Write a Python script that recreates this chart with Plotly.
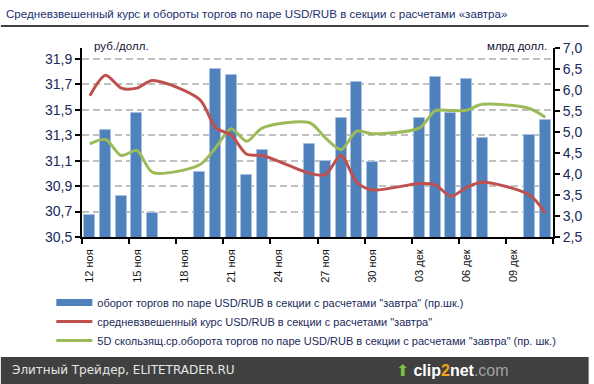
import plotly.graph_objects as go
import pandas as pd

# ---------------- data ----------------
dates = ["2012-11-12", "2012-11-13", "2012-11-14", "2012-11-15", "2012-11-16",
         "2012-11-19", "2012-11-20", "2012-11-21", "2012-11-22", "2012-11-23",
         "2012-11-26", "2012-11-27", "2012-11-28", "2012-11-29", "2012-11-30",
         "2012-12-03", "2012-12-04", "2012-12-05", "2012-12-06", "2012-12-07",
         "2012-12-10", "2012-12-11"]
turnover = [3.03, 5.04, 3.48, 5.46, 3.07,
            4.04, 6.50, 6.35, 3.97, 4.56,
            4.72, 4.32, 5.34, 6.18, 4.28,
            5.34, 6.31, 5.46, 6.27, 4.86,
            4.92, 5.28]
rate = [31.61, 31.77, 31.67, 31.67, 31.73,
        31.58, 31.36, 31.30, 31.15, 31.14,
        31.00, 30.99, 31.14, 30.93, 30.87,
        30.92, 30.91, 30.82, 30.89, 30.93,
        30.83, 30.69]
ma5 = [4.72, 4.82, 4.44, 4.56, 4.04,
       4.22, 4.62, 5.08, 4.78, 5.10,
       5.22, 4.86, 4.58, 5.02, 4.96,
       5.10, 5.51, 5.51, 5.52, 5.66,
       5.56, 5.35]
tick_dates = ["2012-11-12", "2012-11-15", "2012-11-18", "2012-11-21", "2012-11-24",
              "2012-11-27", "2012-11-30", "2012-12-03", "2012-12-06", "2012-12-09"]
tick_labels = ["12 ноя", "15 ноя", "18 ноя", "21 ноя", "24 ноя",
               "27 ноя", "30 ноя", "03 дек", "06 дек", "09 дек"]
left_ticks = [30.5, 30.7, 30.9, 31.1, 31.3, 31.5, 31.7, 31.9]
right_ticks = [2.5, 3.0, 3.5, 4.0, 4.5, 5.0, 5.5, 6.0, 6.5, 7.0]

name_bar = 'оборот торгов по паре USD/RUB в секции с расчетами "завтра" (пр.шк.)'
name_rate = 'средневзвешенный курс USD/RUB в секции с расчетами "завтра"'
name_ma = '5D скользящ.ср.оборота торгов по паре USD/RUB в секции с расчетами "завтра" (пр. шк.)'
title_text = "Средневзвешенный курс и обороты торгов по паре USD/RUB в секции с расчетами «завтра»"

# ---------------- style ----------------
BLUE = "#4F81BD"
RED = "#C0504D"
GREEN = "#9BBB59"
NAVY = "#1a2a5a"
FONT = "Liberation Sans Narrow, Liberation Sans, Arial, sans-serif"

W, H = 594, 384
L, R, T, B = 82, 36, 48, 147
PW, PH = W - L - R, H - T - B


def px_x(p):
    return (p - L) / PW


def px_y(p):
    return (H - B - p) / PH


DAY = 86400000
bounds = [d.strftime("%Y-%m-%d %H:%M") for d in
          pd.date_range("2012-11-11 12:00", "2012-12-11 12:00", freq="3D")]

fig = go.Figure()
fig.add_trace(go.Bar(x=dates, y=turnover, yaxis="y", width=0.7 * DAY,
                     marker=dict(color=BLUE, line=dict(color="#A9C0E0", width=1)),
                     showlegend=False, name=name_bar))
fig.add_trace(go.Scatter(x=[None], y=[None], yaxis="y", mode="lines",
                         line=dict(color=BLUE, width=7), name=name_bar,
                         legendrank=1, legendgroup="a"))
fig.add_trace(go.Scatter(x=dates, y=ma5, yaxis="y", mode="lines",
                         line=dict(color=GREEN, width=3, shape="spline", smoothing=0.8),
                         name=name_ma, legendrank=3, legendgroup="c"))
fig.add_trace(go.Scatter(x=dates, y=rate, yaxis="y2", mode="lines",
                         line=dict(color=RED, width=3, shape="spline", smoothing=0.8),
                         name=name_rate, legendrank=2, legendgroup="b"))

axis_font = dict(family=FONT, size=14, color=NAVY)

fig.update_layout(
    width=W, height=H,
    margin=dict(l=L, r=R, t=T, b=B, pad=0),
    paper_bgcolor="white", plot_bgcolor="white",
    separators=", ",
    bargap=0,
    font=dict(family=FONT, color=NAVY),
    xaxis=dict(
        type="date",
        range=["2012-11-11 12:00", "2012-12-11 12:00"],
        tickmode="array", tickvals=tick_dates, ticktext=tick_labels,
        tickangle=-90, ticks="", ticklabelstandoff=6,
        tickfont=dict(family=FONT, size=11, color="#111111"),
        showline=True, linecolor="black", linewidth=2,
        showgrid=False, zeroline=False,
        minor=dict(tickmode="array", tickvals=bounds, ticks="outside",
                   ticklen=5, tickwidth=1.5, tickcolor="black", showgrid=False),
    ),
    yaxis=dict(
        side="right",
        range=[2.5, 7.0], tickmode="array", tickvals=right_ticks,
        tickformat=".1f", tickfont=axis_font,
        showgrid=False, zeroline=False,
        showline=True, linecolor="black", linewidth=2,
        ticks="outside", ticklen=5, tickwidth=2, tickcolor="black",
    ),
    yaxis2=dict(
        overlaying="y", side="left",
        range=[30.5, 31.985], tickmode="array", tickvals=left_ticks,
        tickformat=".1f", tickfont=axis_font,
        showgrid=True, gridcolor="#BFBFBF", gridwidth=1.5, griddash="7px,4px",
        showline=True, linecolor="black", linewidth=2,
        ticks="outside", ticklen=5, tickwidth=2, tickcolor="black",
        zeroline=False,
    ),
    legend=dict(
        x=px_x(51), y=px_y(288), xanchor="left", yanchor="top",
        orientation="v", traceorder="grouped", tracegroupgap=0,
        font=dict(family=FONT, size=11, color=NAVY),
        bgcolor="rgba(0,0,0,0)", itemwidth=36,
    ),
    shapes=[
        dict(type="line", xref="paper", yref="paper",
             x0=px_x(0), x1=px_x(W), y0=px_y(26), y1=px_y(26),
             line=dict(color="black", width=1.5)),
        dict(type="rect", xref="paper", yref="paper",
             x0=px_x(0), x1=px_x(W), y0=px_y(357), y1=px_y(H),
             fillcolor="#404040", line=dict(width=0), layer="below"),
    ],
    annotations=[
        dict(text=title_text, xref="paper", yref="paper",
             x=px_x(3), y=px_y(14), xanchor="left", yanchor="middle",
             showarrow=False, font=dict(family=FONT, size=11.6, color="#1b2f6e")),
        dict(text="руб./долл.", xref="paper", yref="paper",
             x=px_x(92), y=px_y(46), xanchor="left", yanchor="middle",
             showarrow=False, font=dict(family=FONT, size=11.5, color="#111133")),
        dict(text="млрд долл.", xref="paper", yref="paper",
             x=px_x(554), y=px_y(46), xanchor="right", yanchor="middle",
             showarrow=False, font=dict(family=FONT, size=11.5, color="#111133")),
        dict(text="Элитный Трейдер, ELITETRADER.RU", xref="paper", yref="paper",
             x=px_x(9), y=px_y(370), xanchor="left", yanchor="middle",
             showarrow=False, font=dict(family="DejaVu Sans", size=12, color="#E6E6E6")),
        dict(text='<span style="color:#7BC043">⬆</span> <b>clip</b>'
                  '<b><span style="color:#F7A11A">2</span></b><b>net</b>'
                  '<span style="color:#A0A0A0">.com</span>',
             xref="paper", yref="paper",
             x=px_x(516), y=px_y(370), xanchor="right", yanchor="middle",
             showarrow=False, font=dict(family="Liberation Sans, Arial, sans-serif",
                                        size=16, color="white")),
    ],
)

fig.write_html("out.html", config={"displayModeBar": False},
               post_script="document.body.style.margin='0';document.body.style.padding='0';"
                           "document.documentElement.style.overflow='hidden';")
